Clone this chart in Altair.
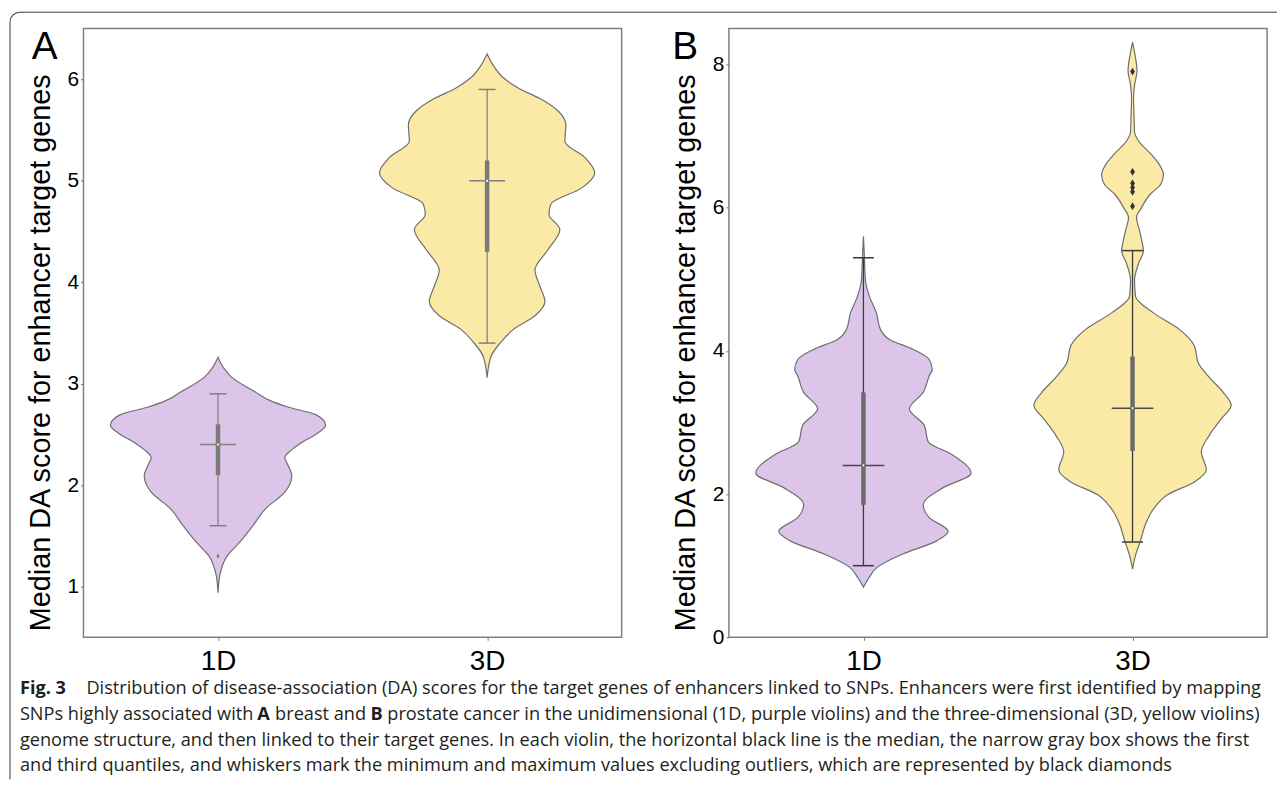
import math
import altair as alt
import pandas as pd

# ---------------- data ----------------
groups = ["1D", "3D"]
group_pos = [0, 1]

# violin outlines: score and half-width (relative, widest violin = 108)
a1d_score = [0.94, 1.12, 1.30, 1.44, 1.60, 1.77, 1.93, 2.09, 2.20, 2.27, 2.34, 2.42, 2.50, 2.59, 2.69, 2.77, 2.83, 2.92, 3.07, 3.15, 3.26]
a1d_width = [0, 2, 9, 22, 35, 48, 67, 74, 70, 67, 73, 84, 98, 108, 99, 70, 53, 37, 13, 6, 0]

a3d_score = [3.06, 3.27, 3.40, 3.54, 3.67, 3.81, 3.96, 4.12, 4.32, 4.52, 4.67, 4.77, 4.93, 5.08, 5.23, 5.39, 5.55, 5.68, 5.81, 5.91, 6.01, 6.14, 6.25]
a3d_width = [0, 4, 13, 27, 48, 58, 53, 48, 61, 73, 62, 64, 95, 108, 98, 78, 79, 72, 53, 32, 17, 6, 0]

b1d_score = [0.70, 0.84, 0.98, 1.16, 1.35, 1.48, 1.67, 1.85, 2.09, 2.29, 2.55, 2.73, 2.96, 3.19, 3.42, 3.65, 3.74, 3.88, 4.02, 4.16, 4.30, 4.53, 4.76, 4.99, 5.30, 5.60]
b1d_width = [0, 6, 14, 39, 74, 85, 66, 60, 80, 108, 89, 65, 61, 46, 60, 66, 69, 66, 50, 26, 17, 13, 6, 2, 1, 0]

b3d_score = [0.95, 1.12, 1.35, 1.58, 1.81, 1.99, 2.17, 2.34, 2.59, 2.82, 3.05, 3.24, 3.42, 3.63, 3.83, 4.07, 4.30, 4.53, 4.76, 4.99,
             5.22, 5.40, 5.49, 5.68, 5.86, 6.00, 6.19, 6.32, 6.46, 6.60, 6.74, 6.93, 7.06, 7.29, 7.52, 7.71, 7.91, 8.17, 8.31]
b3d_width = [0, 2.5, 8, 13, 22, 35, 62, 74, 69, 77, 89, 99, 91, 77, 66, 62, 47, 21, 3, 2,
             6, 11, 10, 7, 4, 9, 18, 28, 31, 27, 19, 6, 2, 1.5, 1, 2, 4.5, 2, 0]

# box statistics: whisker low, Q1, median, Q3, whisker high
a_lo, a_q1, a_med, a_q3, a_hi = [1.6, 3.4], [2.1, 4.3], [2.4, 5.0], [2.6, 5.2], [2.9, 5.9]
b_lo, b_q1, b_med, b_q3, b_hi = [1.0, 1.33], [1.85, 2.6], [2.4, 3.2], [3.42, 3.92], [5.3, 5.4]

# outliers
a_out_group, a_out_score = ["1D"], [1.3]
b_out_group, b_out_score = ["3D"] * 6, [6.02, 6.22, 6.28, 6.34, 6.50, 7.90]

y_title = "Median DA score for enhancer target genes"
a_ticks = [1, 2, 3, 4, 5, 6]
b_ticks = [0, 2, 4, 6, 8]

caption_l1_bold = "Fig. 3"
caption_l1 = "Distribution of disease-association (DA) scores for the target genes of enhancers linked to SNPs. Enhancers were first identified by mapping"
caption_l2 = ["SNPs highly associated with", "A", "breast and", "B",
              "prostate cancer in the unidimensional (1D, purple violins) and the three-dimensional (3D, yellow violins)"]
caption_l3 = "genome structure, and then linked to their target genes. In each violin, the horizontal black line is the median, the narrow gray box shows the first"
caption_l4 = "and third quantiles, and whiskers mark the minimum and maximum values excluding outliers, which are represented by black diamonds"

# ---------------- styling ----------------
PURPLE = "#dcc5e8"
YELLOW = "#faeaa5"
OUTLINE = "#6e6e6e"
W, H = 542, 613
HALF = 0.4          # x-units of the widest violin half-width
PX = 2.0 / W        # x-units per pixel
FONT = "Liberation Sans"
CAP_FONT = "Open Sans"
CAP_SIZE = 18.3
TXT = "#231f20"

xscale = alt.Scale(domain=[-0.5, 1.5], nice=False, zero=False)
xaxis = alt.Axis(values=[0, 1], labelExpr="datum.value == 0 ? '1D' : '3D'", title=None,
                 labelFontSize=28, labelPadding=7, tickSize=3, grid=False, domain=False,
                 tickColor="#777777", labelColor="black", labelFont=FONT)


def yaxis(ticks):
    return alt.Axis(values=ticks, format="d", title=y_title, titleFontSize=29, titleFont=FONT,
                    titleFontWeight="normal", titleColor="black", titlePadding=12, titleY=326,
                    labelFontSize=21, labelFont=FONT, labelColor="black", labelPadding=2,
                    tickSize=3, tickColor="#777777", grid=False, domain=False)


def panel(vdata, lo, q1, med, q3, hi, out_g, out_s, ydom, ticks, letter, letter_x,
          line_col, box_col, med_col, out_col, out_size, cap_px, med_px, extra=None):
    ys = alt.Scale(domain=ydom, nice=False, zero=False)
    ya = yaxis(ticks)
    rows = []
    for g, pos, sc, wd in vdata:
        for s, w in zip(sc, wd):
            rows.append({"group": g, "pos": pos, "score": s, "w": w})
    vdf = pd.DataFrame(rows)
    bdf = pd.DataFrame({"group": groups, "pos": group_pos, "lo": lo, "q1": q1,
                        "med": med, "q3": q3, "hi": hi})
    odf = pd.DataFrame({"group": out_g, "score": out_s})
    odf["pos"] = odf["group"].map(dict(zip(groups, group_pos)))

    violin = alt.Chart(vdf).transform_calculate(
        xl=f"datum.pos - {HALF} * datum.w / 108",
        xr=f"datum.pos + {HALF} * datum.w / 108",
    ).mark_area(orient="horizontal", interpolate="monotone", stroke=OUTLINE,
                strokeWidth=1.2).encode(
        y=alt.Y("score:Q", scale=ys, axis=ya),
        x=alt.X("xl:Q", scale=xscale, axis=xaxis),
        x2="xr:Q",
        fill=alt.Fill("group:N", scale=alt.Scale(domain=groups, range=[PURPLE, YELLOW]), legend=None),
    )
    bb = alt.Chart(bdf)
    whisk = bb.mark_rule(color=line_col, strokeWidth=1.3).encode(
        x=alt.X("pos:Q", scale=xscale, axis=xaxis),
        y=alt.Y("lo:Q", scale=ys, axis=ya), y2="hi:Q")
    box = bb.mark_rule(color=box_col, strokeWidth=4.5).encode(
        x=alt.X("pos:Q", scale=xscale, axis=xaxis),
        y=alt.Y("q1:Q", scale=ys, axis=ya), y2="q3:Q")
    caps = bb.transform_fold(["lo", "hi"], as_=["k", "v"]).transform_calculate(
        cl=f"datum.pos - {cap_px * PX}", cr=f"datum.pos + {cap_px * PX}"
    ).mark_rule(color=line_col, strokeWidth=1.5).encode(
        x=alt.X("cl:Q", scale=xscale, axis=xaxis), x2="cr:Q",
        y=alt.Y("v:Q", scale=ys, axis=ya))
    medl = bb.transform_calculate(
        ml=f"datum.pos - {med_px * PX}", mr=f"datum.pos + {med_px * PX}"
    ).mark_rule(color=med_col, strokeWidth=1.5).encode(
        x=alt.X("ml:Q", scale=xscale, axis=xaxis), x2="mr:Q",
        y=alt.Y("med:Q", scale=ys, axis=ya))
    dot = bb.mark_point(filled=True, color="white", size=5, opacity=1).encode(
        x=alt.X("pos:Q", scale=xscale, axis=xaxis),
        y=alt.Y("med:Q", scale=ys, axis=ya))
    outl = alt.Chart(odf).mark_point(shape="M0,-1L0.62,0L0,1L-0.62,0Z", filled=True,
                                      color=out_col, size=out_size, opacity=1).encode(
        x=alt.X("pos:Q", scale=xscale, axis=xaxis),
        y=alt.Y("score:Q", scale=ys, axis=ya))

    one = alt.Chart(pd.DataFrame({"k": [0]}))
    lab = one.mark_text(text=letter, font=FONT, fontSize=39, align="left",
                        baseline="alphabetic", color="black").encode(
        x=alt.value(letter_x), y=alt.value(31))
    layers = [violin, whisk, box, caps, medl, dot, outl, lab]
    if extra:
        layers += extra
    return alt.layer(*layers).properties(width=W, height=H)


# border and caption (drawn in panel A's coordinates)
one = alt.Chart(pd.DataFrame({"k": [0]}))
BC = "#3a3a3a"
border = [
    one.mark_rule(color=BC, strokeWidth=1).encode(x=alt.value(-64), x2=alt.value(1202), y=alt.value(-16.5)),
    one.mark_rule(color=BC, strokeWidth=1).encode(x=alt.value(-74), y=alt.value(-6.5), y2=alt.value(756)),
    one.mark_arc(radius=10.5, radius2=9.5, theta=1.5 * math.pi, theta2=2 * math.pi, color=BC).encode(
        x=alt.value(-64), y=alt.value(-6.5)),
]


def ctext(txt, x, y, bold=False):
    return one.mark_text(text=txt, font=CAP_FONT, fontSize=CAP_SIZE, align="left", baseline="alphabetic",
                         color=TXT, fontWeight="bold" if bold else "normal").encode(
        x=alt.value(x), y=alt.value(y))


X0 = -64
caption = [
    ctext(caption_l1_bold, X0, 670, bold=True),
    ctext(caption_l1, 3, 670),
    ctext(caption_l2[0], X0, 696),
    ctext(caption_l2[1], 175, 696, bold=True),
    ctext(caption_l2[2], 193, 696),
    ctext(caption_l2[3], 289, 696, bold=True),
    ctext(caption_l2[4], 306, 696),
    ctext(caption_l3, X0, 722),
    ctext(caption_l4, X0, 748),
]

panelA = panel([("1D", 0, a1d_score, a1d_width), ("3D", 1, a3d_score, a3d_width)],
               a_lo, a_q1, a_med, a_q3, a_hi, a_out_group, a_out_score, [0.5, 6.5], a_ticks,
               "A", -52, "#808080", "#7a7a7a", "#808080", "#808080", 28, 8.5, 18,
               extra=border + caption)
panelB = panel([("1D", 0, b1d_score, b1d_width), ("3D", 1, b3d_score, b3d_width)],
               b_lo, b_q1, b_med, b_q3, b_hi, b_out_group, b_out_score, [0, 8.5], b_ticks,
               "B", -57, "#3a3a3a", "#6b6b6b", "#4a4a4a", "#333333", 60, 10.5, 21)

chart = alt.hconcat(panelA, panelB, spacing=108, bounds="flush").properties(
    padding={"left": 0, "top": 0, "right": 0, "bottom": 0}
).configure_view(stroke="#808080", strokeWidth=1.5)

chart.save("out.html", embed_options={"renderer": "svg", "actions": False})
